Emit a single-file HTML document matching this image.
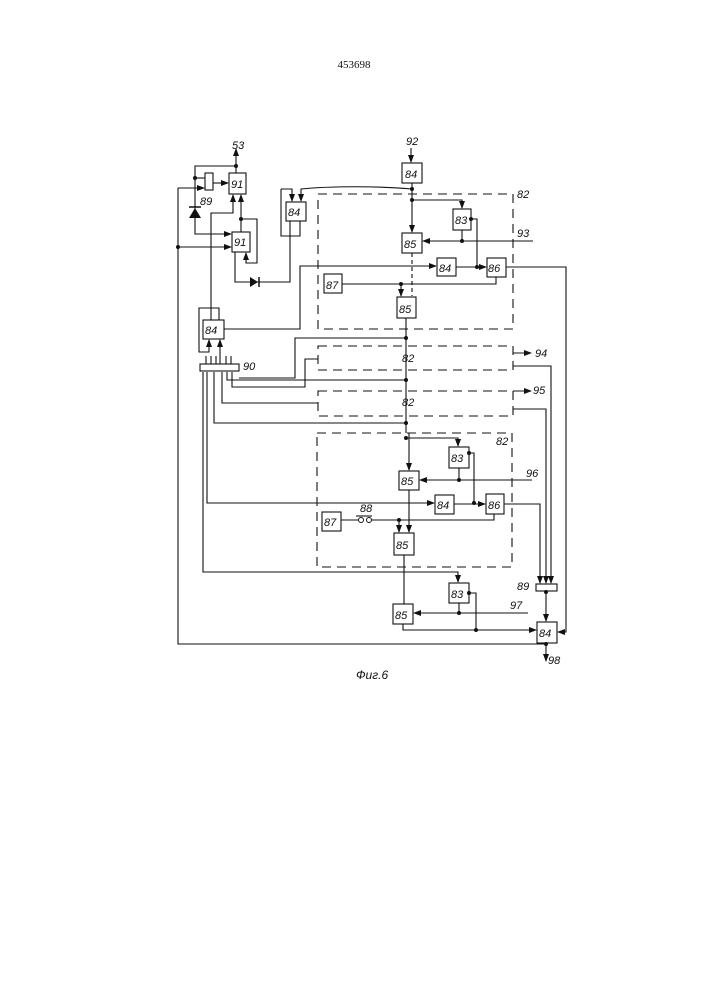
<!DOCTYPE html>
<html><head><meta charset="utf-8"><style>
html,body{margin:0;padding:0;background:#fff;}
svg{display:block}
text{font-family:"Liberation Sans",sans-serif;font-style:italic;font-size:11px;fill:#111}
</style></head><body>
<svg width="707" height="1000" viewBox="0 0 707 1000" xmlns="http://www.w3.org/2000/svg">
<defs>
<marker id="a" markerWidth="8" markerHeight="6" refX="7" refY="3" orient="auto" markerUnits="userSpaceOnUse"><path d="M0,0 L8,3 L0,6 z" fill="#111"/></marker>
</defs>
<text x="354" y="68" text-anchor="middle" style="font-style:normal;font-size:11px;font-family:'Liberation Serif',serif">453698</text>

<g fill="none" stroke="#111" stroke-width="1.1">
<g stroke-dasharray="9,6">
<rect x="318" y="194" width="195" height="135"/>
<rect x="318" y="346" width="195" height="24"/>
<rect x="318" y="391" width="195" height="25"/>
<rect x="317" y="433" width="195" height="134"/>
</g>
<rect x="229" y="173" width="17" height="21"/>
<rect x="205" y="173" width="8" height="17"/>
<rect x="232" y="232" width="18" height="20"/>
<rect x="286" y="202" width="20" height="19"/>
<rect x="402" y="163" width="20" height="20"/>
<rect x="453" y="209" width="18" height="21"/>
<rect x="402" y="233" width="20" height="20"/>
<rect x="437" y="258" width="19" height="18"/>
<rect x="487" y="258" width="19" height="19"/>
<rect x="324" y="274" width="18" height="19"/>
<rect x="397" y="297" width="19" height="21"/>
<rect x="203" y="320" width="21" height="19"/>
<rect x="200" y="364" width="39" height="7"/>
<rect x="449" y="447" width="20" height="21"/>
<rect x="399" y="471" width="20" height="19"/>
<rect x="435" y="495" width="19" height="19"/>
<rect x="486" y="494" width="18" height="20"/>
<rect x="322" y="512" width="19" height="19"/>
<rect x="394" y="533" width="20" height="22"/>
<rect x="449" y="583" width="20" height="20"/>
<rect x="393" y="604" width="20" height="20"/>
<rect x="536" y="584" width="21" height="7"/>
<rect x="537" y="622" width="20" height="21"/>

<path d="M236 173 V149" marker-end="url(#a)"/>
<path d="M236 166 H195 V234 H231" marker-end="url(#a)"/>
<path d="M195 178 H205"/>
<path d="M213 183 H228" marker-end="url(#a)"/>
<path d="M178 188 H204" marker-end="url(#a)"/>
<path d="M178 188 V644 H546"/>
<path d="M178 247 H231" marker-end="url(#a)"/>
<path d="M211 320 V213 H233 V195" marker-end="url(#a)"/>
<path d="M241 232 V195" marker-end="url(#a)"/>
<path d="M241 219 H257 V263 H246 V253" marker-end="url(#a)"/>
<path d="M235 252 V282 H290 V221"/>
<path d="M281 189 V236 H300 V221"/>
<path d="M281 189 H292 V201" marker-end="url(#a)"/>
<path d="M412 189 C380 186 330 186 301 189 V201" marker-end="url(#a)"/>
<!-- left 84 loop -->
<path d="M219 320 V308 H199 V352 H209 V340" marker-end="url(#a)"/>
<path d="M220 364 V340" marker-end="url(#a)"/>
<path d="M411 148 V162" marker-end="url(#a)"/>
<path d="M412 183 V232" marker-end="url(#a)"/>
<path d="M412 200 H462 V208" marker-end="url(#a)"/>
<path d="M471 219 H477 V267"/>
<path d="M533 241 H423" marker-end="url(#a)"/>
<path d="M462 241 V230"/>
<path d="M224 329 H300 V266 H436" marker-end="url(#a)"/>
<path d="M456 267 H486" marker-end="url(#a)"/>
<path d="M506 267 H566 V632 H558" marker-end="url(#a)"/>
<path d="M342 284 H496 V277"/>
<path d="M401 284 V296" marker-end="url(#a)"/>
<path d="M412 253 V296" stroke-dasharray="4,3"/>
<path d="M406 318 V433"/>
<path d="M406 338 H295 V378 H239"/>
<path d="M318 359 H305 V387 H232 V372"/>
<path d="M406 380 H227 V372"/>
<path d="M318 403 H222 V372"/>
<path d="M406 423 H214 V372"/>
<path d="M513 353 H531" marker-end="url(#a)"/>
<path d="M513 391 H531" marker-end="url(#a)"/>
<path d="M513 366 H551 V583" marker-end="url(#a)"/>
<path d="M513 409 H546 V583" marker-end="url(#a)"/>
<path d="M206 364 V356 M211 364 V356 M216 364 V356 M226 364 V356 M231 364 V356"/>
<path d="M406 438 H458 V446" marker-end="url(#a)"/>
<path d="M409 433 V470" marker-end="url(#a)"/>
<path d="M469 453 H474 V503"/>
<path d="M532 480 H420" marker-end="url(#a)"/>
<path d="M459 480 V468"/>
<path d="M207 372 V503 H434" marker-end="url(#a)"/>
<path d="M454 504 H485" marker-end="url(#a)"/>
<path d="M504 504 H540 V583" marker-end="url(#a)"/>
<path d="M341 520 H358 M370 520 H494 V514"/>
<path d="M356 516 H372"/>
<path d="M399 520 V532" marker-end="url(#a)"/>
<path d="M409 490 V532" marker-end="url(#a)"/>
<path d="M404 555 V604"/>
<path d="M203 372 V572 H458 V582" marker-end="url(#a)"/>
<path d="M469 593 H476 V630"/>
<path d="M528 613 H414" marker-end="url(#a)"/>
<path d="M459 613 V603"/>
<path d="M403 624 V630 H536" marker-end="url(#a)"/>
<path d="M546 591 V621" marker-end="url(#a)"/>
<path d="M546 643 V661" marker-end="url(#a)"/>
</g>
<path d="M189 218 L201 218 L195 208 z" fill="#111"/><path d="M189 207 H201" stroke="#111" stroke-width="1.5"/>
<path d="M250 277 L250 287 L258 282 z" fill="#111"/><path d="M259 277 V287" stroke="#111" stroke-width="1.5"/>
<g fill="#fff" stroke="#111"><circle cx="361" cy="520" r="2.5"/><circle cx="369" cy="520" r="2.5"/></g>
<g fill="#111">
<circle cx="236" cy="166" r="2"/><circle cx="195" cy="178" r="2"/><circle cx="178" cy="247" r="2"/><circle cx="241" cy="219" r="2"/>
<circle cx="412" cy="189" r="2"/><circle cx="412" cy="200" r="2"/><circle cx="462" cy="241" r="2"/><circle cx="471" cy="219" r="2"/><circle cx="477" cy="267" r="2"/>
<circle cx="401" cy="284" r="2"/><circle cx="406" cy="338" r="2"/><circle cx="406" cy="380" r="2"/><circle cx="406" cy="423" r="2"/><circle cx="406" cy="438" r="2"/>
<circle cx="459" cy="480" r="2"/><circle cx="469" cy="453" r="2"/><circle cx="474" cy="503" r="2"/><circle cx="399" cy="520" r="2"/>
<circle cx="469" cy="593" r="2"/><circle cx="459" cy="613" r="2"/><circle cx="476" cy="630" r="2"/><circle cx="546" cy="644" r="2"/><circle cx="546" cy="592" r="2"/>
</g>
<text x="232" y="149">53</text>
<text x="200" y="205">89</text>
<text x="231" y="188">91</text>
<text x="234" y="246">91</text>
<text x="288" y="216">84</text>
<text x="405" y="178">84</text>
<text x="406" y="145">92</text>
<text x="517" y="198">82</text>
<text x="455" y="224">83</text>
<text x="404" y="248">85</text>
<text x="517" y="237">93</text>
<text x="439" y="272">84</text>
<text x="488" y="272">86</text>
<text x="326" y="289">87</text>
<text x="399" y="313">85</text>
<text x="205" y="334">84</text>
<text x="243" y="370">90</text>
<text x="402" y="362">82</text>
<text x="535" y="357">94</text>
<text x="402" y="406">82</text>
<text x="533" y="394">95</text>
<text x="496" y="445">82</text>
<text x="451" y="462">83</text>
<text x="401" y="485">85</text>
<text x="526" y="477">96</text>
<text x="437" y="509">84</text>
<text x="488" y="509">86</text>
<text x="324" y="526">87</text>
<text x="360" y="512">88</text>
<text x="396" y="549">85</text>
<text x="451" y="598">83</text>
<text x="395" y="619">85</text>
<text x="510" y="609">97</text>
<text x="517" y="590">89</text>
<text x="539" y="637">84</text>
<text x="548" y="664">98</text>
<text x="356" y="679" style="font-size:12px">Фиг.6</text>
</svg>
</body></html>
